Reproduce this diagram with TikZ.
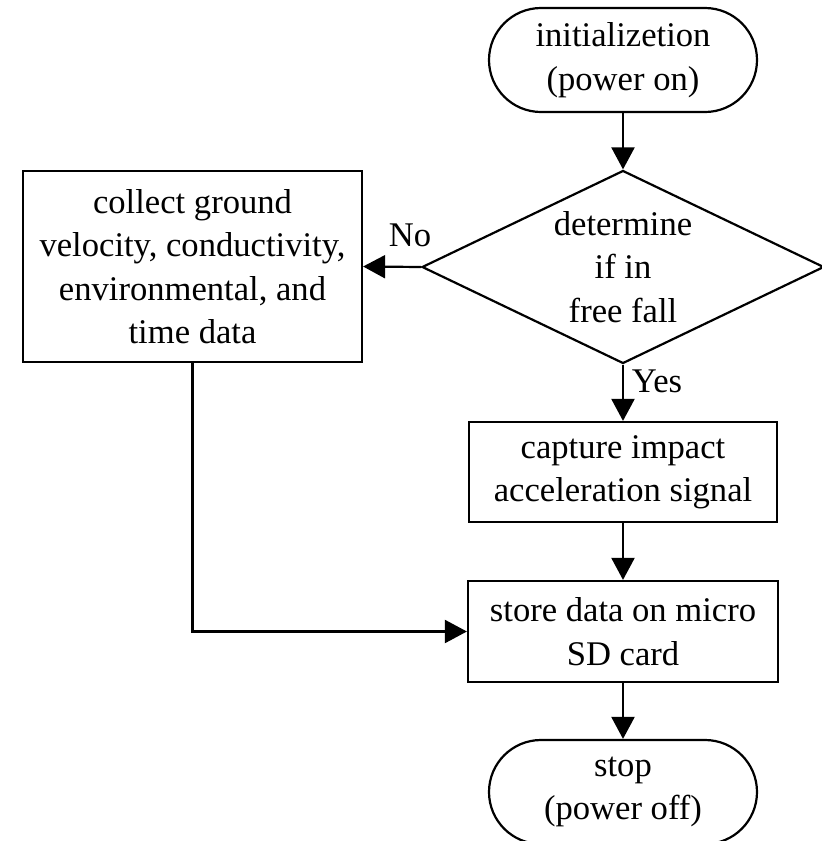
\documentclass[tikz,border=0pt]{standalone}
\usepackage{fontspec}
\setmainfont{Liberation Serif}
\usetikzlibrary{arrows.meta,shapes.geometric}

\begin{document}
\begin{tikzpicture}
  [
    x = 0.5pt, y = -0.5pt,
    every node/.style = {font=\fontsize{17.3}{21.7}\selectfont, align=center},
    terminal/.style = {draw, line width=1.1pt, rounded corners=26pt, minimum width=134pt, minimum height=52pt, inner sep=0},
    process/.style = {draw, line width=1.1pt, inner sep=0},
    decision/.style = {draw, line width=1.1pt, diamond, aspect=2.08, minimum width=201pt, minimum height=96.5pt, inner sep=0},
    flow/.style = {->, line width=1.1pt},
    > = {Triangle[length=11pt,width=11.5pt]},
  ]

  \useasboundingbox (0,0) rectangle (821,841);

  \node[terminal] (init) at (623,60)  {initializetion\\(power on)};
  \node[decision] (fall) at (623,267) {determine\\if in\\free fall};
  \node[process, minimum width=169.5pt, minimum height=95.5pt] (collect) at (192.5,266.5)
    {collect ground\\velocity, conductivity,\\environmental, and\\time data};
  \node[process, minimum width=154pt, minimum height=50pt] (capture) at (623,472)
    {capture impact\\acceleration signal};
  \node[process, minimum width=155pt, minimum height=50.5pt] (store) at (623,631.5)
    {store data on micro\\SD card};
  \node[terminal] (stop) at (623,792) {stop\\(power off)};

  \node (no)  at (410,235) {No};
  \node (yes) at (657,381) {Yes};

  \draw[flow] (init) -- (fall);
  \draw[flow] (fall.west) -- (collect.east);
  \draw[flow] (fall.south) -- (capture.north);
  \draw[flow] (capture) -- (store);
  \draw[flow] (collect.south) |- (store.west);
  \draw[flow] (store) -- (stop);

\end{tikzpicture}
\end{document}
